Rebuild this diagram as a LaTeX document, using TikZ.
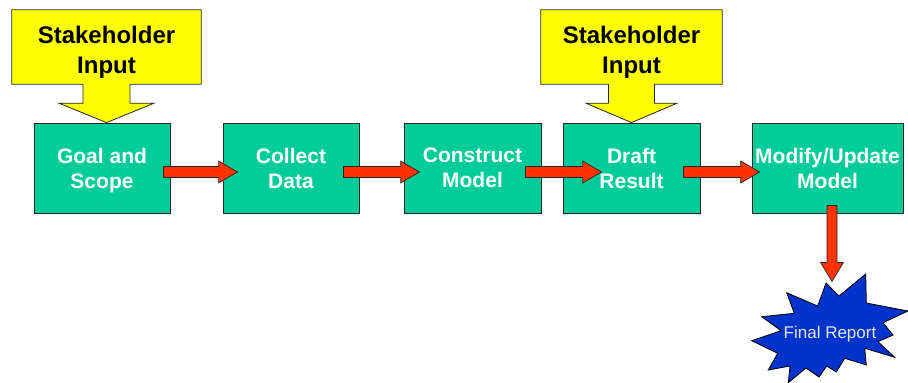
\documentclass[tikz,border=0pt]{standalone}
\usepackage{fontspec}
\setmainfont{Liberation Sans}
\usetikzlibrary{calc}
\pgfdeclarelayer{bg}
\pgfsetlayers{bg,main}
\definecolor{boxgreen}{RGB}{0,204,153}
\definecolor{calloutyellow}{RGB}{255,255,0}
\definecolor{arrowred}{RGB}{255,51,0}
\definecolor{burstblue}{RGB}{0,51,204}
\definecolor{reporttext}{RGB}{230,230,235}
\newcommand\hblockarrow[2]{\draw[blockarrow] let \p1=#1, \p2=#2 in
  (\x1,\y1+5.5pt) -- (\x2-19pt,\y1+5.5pt) -- (\x2-19pt,\y1+11pt) -- (\x2,\y1)
  -- (\x2-19pt,\y1-11pt) -- (\x2-19pt,\y1-5.5pt) -- (\x1,\y1-5.5pt) -- cycle;}
\newcommand\vblockarrow[2]{\draw[blockarrow] let \p1=#1, \p2=#2 in
  (\x1-5pt,\y1) -- (\x1-5pt,\y2+19pt) -- (\x1-11.5pt,\y2+19pt) -- (\x1,\y2)
  -- (\x1+11.5pt,\y2+19pt) -- (\x1+5pt,\y2+19pt) -- (\x1+5pt,\y1) -- cycle;}
\newcommand\shstrut{\rule{0pt}{22pt}}
\begin{document}
\begin{tikzpicture}[x=1pt,y=-1pt,
  stepbox/.style={draw=black!85, line width=0.8pt, fill=boxgreen, text=white,
    font=\bfseries\fontsize{21}{25}\selectfont, align=center,
    minimum height=90pt, text depth=0pt, inner sep=0pt},
  shtext/.style={text=black, font=\bfseries\fontsize{24}{30}\selectfont,
    align=center, minimum height=74pt, text depth=0pt, inner sep=0pt},
  callout/.style={draw=black!85, line width=0.8pt, fill=calloutyellow},
  blockarrow/.style={draw=black!85, line width=0.7pt, fill=arrowred},
  burst/.style={draw=black, line width=0.8pt, fill=burstblue},
  reportstyle/.style={text=reporttext, font=\fontsize{17}{20}\selectfont, inner sep=0pt}]
\useasboundingbox (0,0) rectangle (908,383);

% process boxes
\node[stepbox, minimum width=136pt] (goal) at (102,168) {Goal and\\Scope};
\node[stepbox, minimum width=136pt] (collect) at (291,168) {Collect\\Data};
\node[stepbox, minimum width=137pt] (construct) at (472.5,168) {Construct\\Model};
\node[stepbox, minimum width=137pt] (draft) at (631.5,168) {Draft\\Result};
\node[stepbox, minimum width=151pt] (modify) at (827.5,168) {Modify/Update\\Model};

% stakeholder callouts
\node[shtext, minimum width=189pt] (sh1) at (106.5,47) {\shstrut Stakeholder\\Input};
\node[shtext, minimum width=181pt] (sh2) at (631.5,47) {\shstrut Stakeholder\\Input};
\begin{pgfonlayer}{bg}
\draw[callout] (sh1.north west) -- (sh1.north east) -- (sh1.south east)
  -- ($(sh1.south)+(23.5,0)$) -- ($(sh1.south)+(23.5,19)$) -- ($(sh1.south)+(47.5,19)$)
  -- (sh1.south |- goal.north)
  -- ($(sh1.south)+(-47.5,19)$) -- ($(sh1.south)+(-23.5,19)$) -- ($(sh1.south)+(-23.5,0)$)
  -- (sh1.south west) -- cycle;
\draw[callout] (sh2.north west) -- (sh2.north east) -- (sh2.south east)
  -- ($(sh2.south)+(23,0)$) -- ($(sh2.south)+(23,19)$) -- ($(sh2.south)+(45.5,19)$)
  -- (sh2.south |- draft.north)
  -- ($(sh2.south)+(-45.5,19)$) -- ($(sh2.south)+(-23,19)$) -- ($(sh2.south)+(-23,0)$)
  -- (sh2.south west) -- cycle;
\end{pgfonlayer}

% final report starburst
\node[reportstyle] (fr) at (830,334) {Final Report};
\begin{pgfonlayer}{bg}
\begin{scope}[shift={(fr.center)}]
\draw[burst] (-4,-51) -- (9,-38) -- (35.7,-60) -- (36.3,-31) -- (78,-23)
  -- (53,-11.3) -- (63,1) -- (48,7.7) -- (64.7,23.3) -- (34.7,14.3)
  -- (36.3,31) -- (14.7,24.3) -- (6.3,38) -- (-3.3,32) -- (-11,43)
  -- (-24,34) -- (-41.7,48.7) -- (-40,32) -- (-61.7,36) -- (-52.3,19.3)
  -- (-78.3,6.7) -- (-49,-3.3) -- (-68.3,-17.3) -- (-35.7,-20.7)
  -- (-43.3,-41.3) -- (-12.3,-28) -- cycle;
\end{scope}
\end{pgfonlayer}

% block arrows
\hblockarrow{($(goal.east)+(-7,4)$)}{($(collect.west)+(15,4)$)}
\hblockarrow{($(collect.east)+(-16,4)$)}{($(construct.west)+(16,4)$)}
\hblockarrow{($(construct.east)+(-16,4)$)}{($(draft.west)+(39,4)$)}
\hblockarrow{($(draft.east)+(-17,4)$)}{($(modify.west)+(8,4)$)}
\vblockarrow{($(modify.south)+(4.5,-8)$)}{($(modify.south)+(4.5,68)$)}
\end{tikzpicture}
\end{document}
